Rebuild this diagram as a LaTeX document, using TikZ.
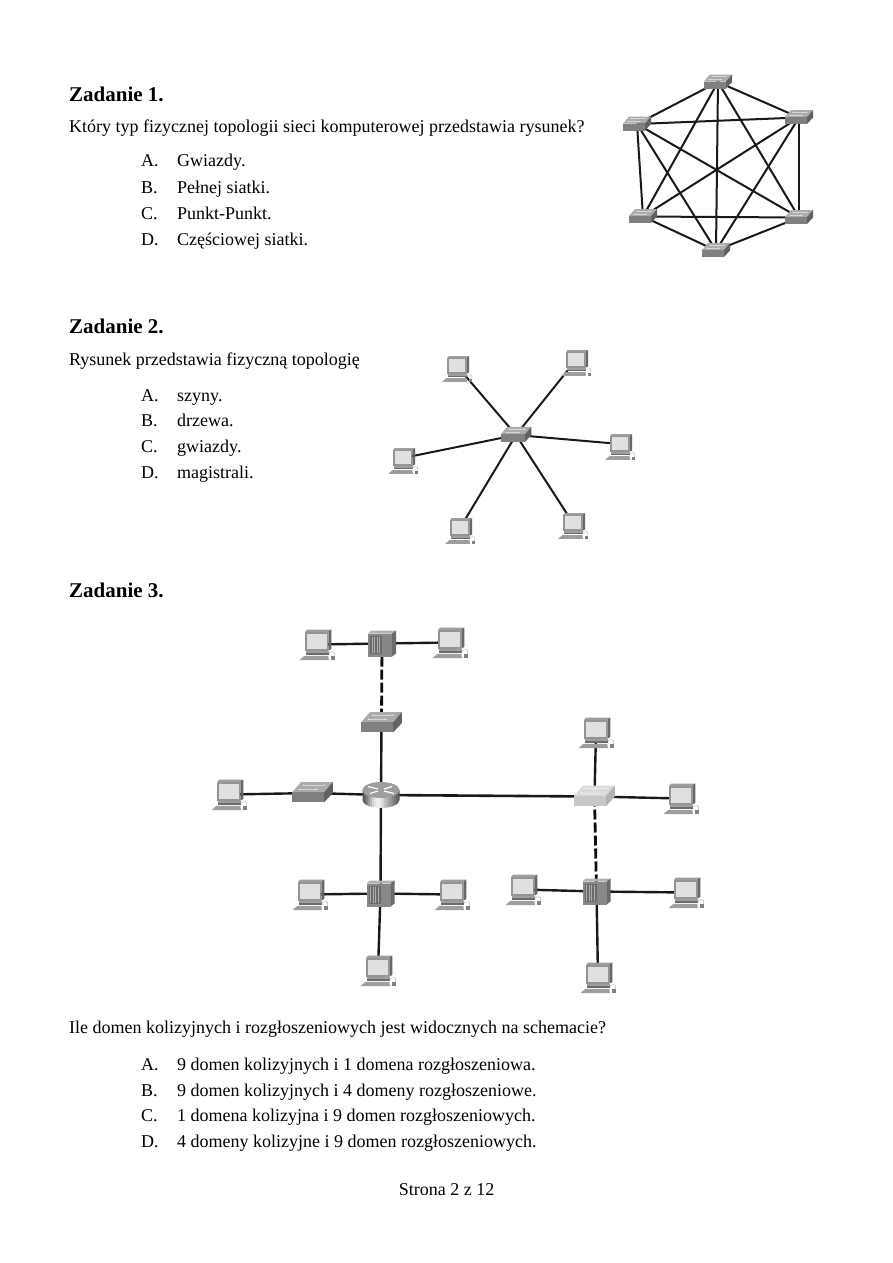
\documentclass[tikz,border=0pt]{standalone}
\usepackage{fontspec}
\setmainfont{Liberation Serif}
\newcommand{\swcode}[3]{%
  \fill[#2] (-14,-0.5) -- (-8,-7.5) -- (14,-7.5) -- (8,-0.5) -- cycle;
  \fill[#3] (8,-0.5) -- (14,-7.5) -- (14,0) -- (8,6.5) -- cycle;
  \fill[#1] (-14,-0.5) rectangle (8,6.5);
  \fill[white,opacity=.75] (-9,-2.5) circle (.55) (-6,-5.5) circle (.55) (3,-2.5) circle (.55) (8,-5.5) circle (.55);
  \draw[white,opacity=.5,line width=.35bp] (-9,-2.5) -- (3,-2.5) (-6,-5.5) -- (8,-5.5);
}
\tikzset{
  x=1bp,y=-1bp,
  txt/.style={anchor=base west,inner sep=0pt,font=\fontsize{18bp}{22bp}\selectfont},
  head/.style={anchor=base west,inner sep=0pt,font=\fontsize{21bp}{25bp}\selectfont\bfseries},
  devnode/.style={inner sep=0pt,minimum size=1bp},
  wireA/.style={line width=2bp,black!90},
  wireB/.style={line width=2.4bp,black!90},
  wireC/.style={line width=2.6bp,black!90},
  wireD/.style={line width=2.8bp,black!95,dash pattern=on 10bp off 3bp},
  pics/pcdev/.style={code={
    \fill[black!38] (-9.5,-7.5) -- (-8,-9.5) -- (11.5,-9.5) -- (9,-7.5) -- cycle;
    \fill[black!60] (9,-7.5) -- (11.5,-9.5) -- (11.5,6) -- (9,7.5) -- cycle;
    \fill[black!42] (-9.5,-7.5) rectangle (9,7.5);
    \fill[black!12] (-8,-6.3) rectangle (7.8,6);
    \fill[black!38] (-8.5,7.5) rectangle (9.5,9.5);
    \fill[black!58] (-8.5,9.5) rectangle (9.5,10.8);
    \fill[black!38] (-10,11.5) -- (9,11.5) -- (9.5,15) -- (-14,15) -- cycle;
    \draw[black!30,line width=.45bp] (9.5,9) .. controls (13,7.5) and (15,8) .. (14,12);
    \fill[black!50] (11,12) rectangle (14.5,15);
  }},
  pics/swdev/.style={code={\swcode{black!50}{black!33}{black!62}}},
  pics/swlight/.style={code={\swcode{black!22}{black!14}{black!30}}},
  pics/hubdev/.style={code={
    \fill[black!30] (-14,-10) -- (-11,-13) -- (14,-13) -- (10,-10) -- cycle;
    \fill[black!58] (10,-10) -- (14,-13) -- (14,10) -- (10,13) -- cycle;
    \fill[black!47] (-14,-10) rectangle (10,13);
    \fill[black!58] (-12,-8) rectangle (0,10);
    \foreach \u in {-10,-7.5,-5,-2.5} {\draw[black!32,line width=.7bp] (\u,-7) -- (\u,9);}
  }},
  pics/routerdev/.style={code={
    \begin{scope}
      \clip (-18.5,-5) -- (-18.5,5) arc[start angle=180,end angle=0,x radius=18.5,y radius=8] -- (18.5,-5) -- cycle;
      \foreach \u/\g in {-19/68,-17/60,-15/50,-13/40,-11/28,-9/18,-7/10,-5/6,-3/6,-1/10,1/16,3/24,5/30,7/36,9/42,11/48,13/54,15/60,17/66}
        {\fill[black!\g] (\u,-6) rectangle (\u+2.1,14);}
    \end{scope}
    \fill[black!38] (0,-5) ellipse[x radius=18.5,y radius=8];
    \draw[white,line width=1.2bp] (-13,-8.5) -- (-3,-6) (13,-1.5) -- (3,-4) (-11,-1.5) -- (-3,-4) (11,-8.5) -- (3,-6);
  }},
}
\begin{document}
\begin{tikzpicture}
\useasboundingbox (0,0) rectangle (893,1263);
\fill[white] (0,0) rectangle (893,1263);
% ---------- text
\node[head] (h1) at (69,101) {Zadanie 1.};
\node[txt] (q1) at (69,132) {Który typ fizycznej topologii sieci komputerowej przedstawia rysunek?};
\node[txt] (a1l) at (141,166) {A.}; \node[txt] (a1) at (177,166) {Gwiazdy.};
\node[txt] (b1l) at (141,193) {B.}; \node[txt] (b1) at (177,193) {Pełnej siatki.};
\node[txt] (c1l) at (141,219) {C.}; \node[txt] (c1) at (177,219) {Punkt-Punkt.};
\node[txt] (d1l) at (141,245) {D.}; \node[txt] (d1) at (177,245) {Częściowej siatki.};
\node[head] (h2) at (69,333) {Zadanie 2.};
\node[txt] (q2) at (69,365) {Rysunek przedstawia fizyczną topologię};
\node[txt] (a2l) at (141,401) {A.}; \node[txt] (a2) at (177,401) {szyny.};
\node[txt] (b2l) at (141,426) {B.}; \node[txt] (b2) at (177,426) {drzewa.};
\node[txt] (c2l) at (141,452) {C.}; \node[txt] (c2) at (177,452) {gwiazdy.};
\node[txt] (d2l) at (141,478) {D.}; \node[txt] (d2) at (177,478) {magistrali.};
\node[head] (h3) at (69,597) {Zadanie 3.};
\node[txt] (q3) at (69,1033) {Ile domen kolizyjnych i rozgłoszeniowych jest widocznych na schemacie?};
\node[txt] (a3l) at (141,1070) {A.}; \node[txt] (a3) at (177,1070) {9 domen kolizyjnych i 1 domena rozgłoszeniowa.};
\node[txt] (b3l) at (141,1096) {B.}; \node[txt] (b3) at (177,1096) {9 domen kolizyjnych i 4 domeny rozgłoszeniowe.};
\node[txt] (c3l) at (141,1121) {C.}; \node[txt] (c3) at (177,1121) {1 domena kolizyjna i 9 domen rozgłoszeniowych.};
\node[txt] (d3l) at (141,1147) {D.}; \node[txt] (d3) at (177,1147) {4 domeny kolizyjne i 9 domen rozgłoszeniowych.};
\node[txt,anchor=base] (foot) at (446.5,1195) {Strona 2 z 12};
% ---------- device anchors
\foreach \n/\x/\y in {
  ma/718/82, mb/637/124, mc/799/117.5, md/643/216.5, me/799/217.5, mf/716/250.5,
  sc/516/435, pa/457/366, pb/576/360, pc/620/444, pd/403/458, pe/460/528, pf/573/523,
  ta/317/644.5, tb/450/642.5, tc/229/794.5, hu/382/643.5, sa/381.5/723, sb/312.5/793,
  ro/381/795, li/594.5/796.5, td/596/732.5, te/681/798.5,
  hv/596.5/891.5, tf/523/889.5, tg/686/892.5, th/598/977.5,
  hw/380.5/893.5, ti/310/894.5, tj/452/894.5, tk/378/970.5}
  {\node[devnode] (\n) at (\x,\y) {};}
% ---------- connectors: Zadanie 1
\foreach \a/\b in {ma/mb,ma/mc,ma/md,ma/me,ma/mf,mb/mc,mb/md,mb/me,mb/mf,mc/md,mc/me,mc/mf,md/me,md/mf,me/mf}
  {\draw[wireA] (\a.center) -- (\b.center);}
% ---------- connectors: Zadanie 2
\foreach \a in {pa,pb,pc,pd,pe,pf}
  {\draw[wireA] (sc.center) -- (\a.center);}
% ---------- connectors: Zadanie 3
\foreach \a/\b in {ta/hu,hu/tb,sa/ro,ro/sb,sb/tc,ro/hw,hw/ti,hw/tj,hw/tk,td/li,li/te,hv/tf,hv/tg,hv/th}
  {\draw[wireB] (\a.center) -- (\b.center);}
\draw[wireC] (ro.center) -- (li.center);
\draw[wireD] (hu.center) -- (sa.center);
\draw[wireD] (li.center) -- (hv.center);
% ---------- device pictures
\foreach \n in {ma,mb,mc,md,me,mf} {\pic at (\n) {swdev};}
\pic[scale=1.1] at (sc) {swdev};
\foreach \n in {pa,pb,pc,pd,pe,pf} {\pic[scale=1.05] at (\n) {pcdev};}
\foreach \n in {ta,tb,tc,td,te,tf,tg,th,ti,tj,tk} {\pic[scale=1.25,yshift=2.5bp] at (\n) {pcdev};}
\foreach \n in {hu,hv,hw} {\pic at (\n) {hubdev};}
\foreach \n in {sa,sb} {\pic[scale=1.45] at (\n) {swdev};}
\pic[scale=1.45] at (li) {swlight};
\pic at (ro) {routerdev};
\end{tikzpicture}
\end{document}
